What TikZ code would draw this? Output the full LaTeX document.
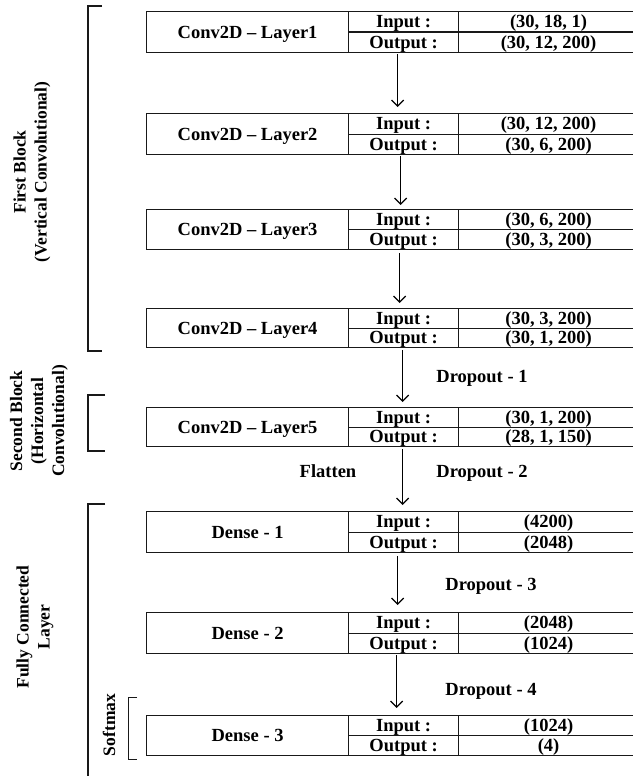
\documentclass[tikz,border=0pt]{standalone}
\usepackage{fontspec}
\setmainfont{Liberation Serif}
\usetikzlibrary{arrows.meta}
\tikzset{
 cellbox/.style={draw=black!90, line width=1.2pt, inner sep=0pt, text height=13pt, text depth=1pt,
   font=\bfseries\fontsize{18.5}{20}\selectfont, anchor=north west},
 arr/.style={line width=1.3pt, -{Straight Barb[length=6pt,width=12pt,line width=1.3pt]}},
 brk/.style={line width=1.8pt, line cap=butt, line join=miter, draw=black!90},
 thinbrk/.style={line width=1pt, line join=miter, draw=black!90},
 sidelab/.style={font=\bfseries\fontsize{17.5}{21}\selectfont, align=center, rotate=90, inner sep=0pt},
 droplab/.style={font=\bfseries\fontsize{18.5}{20}\selectfont, anchor=base, inner sep=0pt},
}
\newcommand{\mklayer}[6]{%
 \pgfmathsetmacro{\hhalf}{(#3-#2)/2}%
 \pgfmathsetmacro{\mmid}{(#3+#2)/2}%
 \node[cellbox, minimum width=202pt, minimum height={(#3-#2)*1pt}] (#1) at (146,#2) {#4};
 \node[cellbox, minimum width=110pt, minimum height={\hhalf pt}] (#1in) at (348,#2) {Input :};
 \node[cellbox, minimum width=110pt, minimum height={\hhalf pt}] (#1out) at (348,\mmid) {Output :};
 \node[cellbox, minimum width=180pt, minimum height={\hhalf pt}] (#1iv) at (458,#2) {#5};
 \node[cellbox, minimum width=180pt, minimum height={\hhalf pt}] (#1ov) at (458,\mmid) {#6};
}
\begin{document}
\begin{tikzpicture}[x=1pt,y=-1pt]
\useasboundingbox (0,0) rectangle (632,776);
\fill[white] (0,0) rectangle (632,776);

\mklayer{L1}{11}{52}{Conv2D – Layer1}{(30, 18, 1)}{(30, 12, 200)}
\mklayer{L2}{113}{154}{Conv2D – Layer2}{(30, 12, 200)}{(30, 6, 200)}
\mklayer{L3}{209}{249}{Conv2D – Layer3}{(30, 6, 200)}{(30, 3, 200)}
\mklayer{L4}{308}{347}{Conv2D – Layer4}{(30, 3, 200)}{(30, 1, 200)}
\mklayer{L5}{407}{446}{Conv2D – Layer5}{(30, 1, 200)}{(28, 1, 150)}
\mklayer{D1}{511}{552}{Dense - 1}{(4200)}{(2048)}
\mklayer{D2}{612}{653}{Dense - 2}{(2048)}{(1024)}
\mklayer{D3}{715}{755}{Dense - 3}{(1024)}{(4)}

% arrows
\draw[arr, shorten <=1pt, shorten >=6pt] ([xshift=-6pt]L1out.south) -- ([xshift=-6pt]L2in.north);
\draw[arr, shorten <=1pt, shorten >=4pt] ([xshift=-3pt]L2out.south) -- ([xshift=-3pt]L3in.north);
\draw[arr, shorten <=3pt, shorten >=5pt] ([xshift=-4pt]L3out.south) -- ([xshift=-4pt]L4in.north);
\draw[arr, shorten <=2pt, shorten >=5pt] ([xshift=-1pt]L4out.south) -- ([xshift=-1pt]L5in.north);
\draw[arr, shorten <=2pt, shorten >=6pt] ([xshift=-1pt]L5out.south) -- ([xshift=-1pt]D1in.north);
\draw[arr, shorten <=3pt, shorten >=7pt] ([xshift=-6pt]D1out.south) -- ([xshift=-6pt]D2in.north);
\draw[arr, shorten <=1pt, shorten >=7pt] ([xshift=-7pt]D2out.south) -- ([xshift=-7pt]D3in.north);

% arrow labels
\node[droplab] (dp1) at (482,382) {Dropout - 1};
\node[droplab] (fl) at (328,477) {Flatten};
\node[droplab] (dp2) at (482,477) {Dropout - 2};
\node[droplab] (dp3) at (491,590) {Dropout - 3};
\node[droplab] (dp4) at (491,695) {Dropout - 4};

% brackets
\draw[brk] (102,6) -- (88,6) -- (88,351) -- (102,351);
\draw[brk] (105,395) -- (88,395) -- (88,451) -- (105,451);
\draw[brk] (105,504) -- (88,504) -- (88,776);
\draw[thinbrk] (137,697) -- (128,697) -- (128,759) -- (137,759);

% side labels
\node[sidelab] (fb) at (32,172) {First Block\\(Vertical Convolutional)};
\node[sidelab] (sb) at (39,421) {Second Block\\(Horizontal\\Convolutional)};
\node[sidelab] (fc) at (35,627) {Fully Connected\\Layer};
\node[sidelab] (sm) at (109,725) {Softmax};
\end{tikzpicture}
\end{document}
